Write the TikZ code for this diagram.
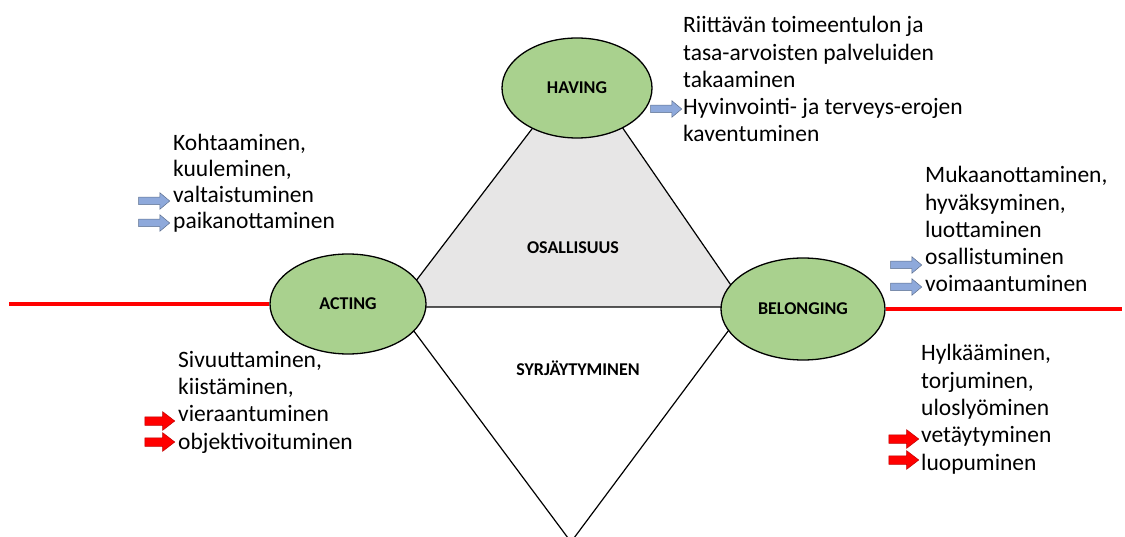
\documentclass[tikz,border=0pt]{standalone}
\usepackage{fontspec}
\setmainfont{Carlito}
\usetikzlibrary{shapes.geometric}
\usetikzlibrary{shapes.arrows}

\definecolor{ellgreen}{RGB}{169,209,142}
\definecolor{trigray}{RGB}{231,230,230}
\definecolor{arrblue}{RGB}{142,169,219}

\begin{document}
\begin{tikzpicture}[x=1pt,y=-1pt,
    ell/.style={ellipse, draw=black, line width=1.3pt, fill=ellgreen, minimum height=100pt, inner sep=0pt, font=\fontsize{18}{20}\selectfont\bfseries},
    words/.style={anchor=base west, inner sep=0pt, align=left, font=\fontsize{23.5}{27.3}\selectfont},
    bluearr/.style={single arrow, draw=arrblue!65!black, line width=0.5pt, fill=arrblue, minimum height=31pt, inner sep=0pt, text height=7pt, single arrow head extend=4.5pt, single arrow tip angle=80},
    redarr/.style={single arrow, draw=red!75!black, line width=0.5pt, fill=red, minimum height=30pt, inner sep=0pt, text height=8pt, single arrow head extend=5pt, single arrow tip angle=75},
    redline/.style={red, line width=4.5pt}]

        \useasboundingbox (0,0) rectangle (1125,537);

        %%% TRIANGLES

        % Corners
        \coordinate (top) at (580,66);
        \coordinate (left) at (396,307);
        \coordinate (right) at (746,307);
        \coordinate (bottom) at (571,542);

        % Upper (grey) and lower triangle
        \filldraw[fill=trigray, draw=black, line width=1.2pt] (left) -- (top) -- (right) -- cycle;
        \draw[black, line width=1.2pt] (left) -- (bottom) -- (right);

        %%% ELLIPSES

        \node[ell, minimum width=150pt] (having) at (577,88) {HAVING};
        \node[ell, minimum width=156pt] (acting) at (348,304) {ACTING};
        \node[ell, minimum width=164pt, minimum height=102pt] (belonging) at (803,309) {BELONGING};

        % Red line
        \coordinate (redL) at (9,304);
        \coordinate (redR) at (1122,309);
        \draw[redline] (redL) -- (acting.west);
        \draw[redline] (belonging.east) -- (redR);

        % Middle words
        \node[font=\fontsize{18}{20}\selectfont\bfseries] (osall) at (573,248) {OSALLISUUS};
        \node[font=\fontsize{18}{20}\selectfont\bfseries] (syrja) at (578,368) {SYRJÄYTYMINEN};

        %%% TEXTS (placed at the baseline of the last line)

        % Having
        \node[words] (havtext) at (683,142) {Riittävän toimeentulon ja\\tasa-arvoisten palveluiden\\takaaminen\\Hyvinvointi- ja terveys-erojen\\kaventuminen};
        \node[bluearr] (havarr) at (664,109) {};

        % Acting (up)
        \node[words, font=\fontsize{23.5}{26}\selectfont] (actup) at (173,229) {Kohtaaminen,\\kuuleminen,\\valtaistuminen\\paikanottaminen};
        \node[bluearr] (actarr1) at (152,201) {};
        \node[bluearr] (actarr2) at (152,223) {};

        % Belonging (up)
        \node[words] (belup) at (925,292) {Mukaanottaminen,\\hyväksyminen,\\luottaminen\\osallistuminen\\voimaantuminen};
        \node[bluearr] (belarr1) at (904,265) {};
        \node[bluearr] (belarr2) at (904,287) {};

        % Acting (down)
        \node[words] (actdown) at (178,449) {Sivuuttaminen,\\kiistäminen,\\vieraantuminen\\objektivoituminen};
        \node[redarr] (actarr3) at (157,421) {};
        \node[redarr] (actarr4) at (157,442) {};

        % Belonging (down)
        \node[words] (beldown) at (921,470) {Hylkääminen,\\torjuminen,\\uloslyöminen\\vetäytyminen\\luopuminen};
        \node[redarr] (belarr3) at (901,439) {};
        \node[redarr] (belarr4) at (901,460) {};

\end{tikzpicture}
\end{document}
